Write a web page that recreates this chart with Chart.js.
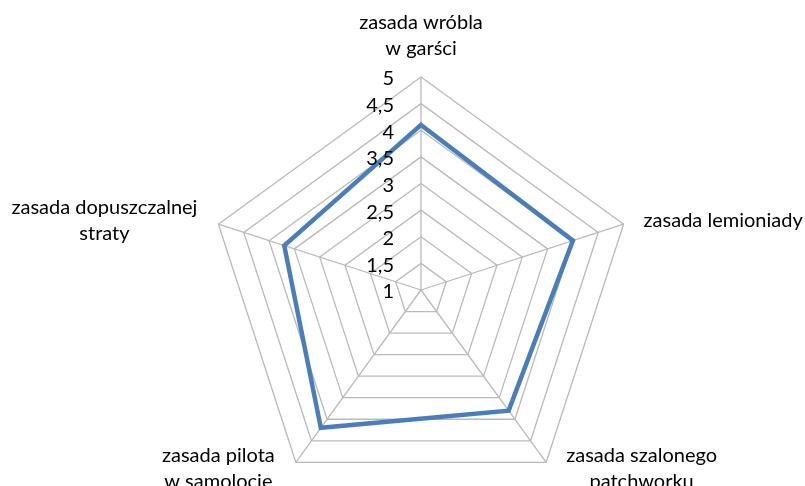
<!DOCTYPE html>
<html>
<head>
<meta charset="utf-8">
<script src="https://cdn.jsdelivr.net/npm/chart.js@4/dist/chart.umd.min.js"></script>
<style>
html,body{margin:0;padding:0;background:#fff;overflow:hidden;width:805px;height:486px;}
canvas{display:block;}
</style>
</head>
<body>
<canvas id="c" width="805" height="503"></canvas>
<script>
const categories = [
  ["zasada wróbla", "w garści"],
  ["zasada lemioniady"],
  ["zasada szalonego", "patchworku"],
  ["zasada pilota", "w samolocie"],
  ["zasada dopuszczalnej", "straty"]
];
const seriesValues = [4.1, 4.0, 3.8, 4.2, 3.7];
const tickValues = [1, 1.5, 2, 2.5, 3, 3.5, 4, 4.5, 5];
const tickLabels = ["1", "1,5", "2", "2,5", "3", "3,5", "4", "4,5", "5"];

const FONT = '20px Lato';
const LINE_H = 26;

const labelPlugin = {
  id: 'excelLabels',
  afterDraw(chart) {
    const scale = chart.scales.r;
    const ctx = chart.ctx;
    ctx.save();
    ctx.font = FONT;
    ctx.fillStyle = '#000';
    // tick labels
    ctx.textAlign = 'right';
    ctx.textBaseline = 'middle';
    scale.ticks.forEach((t) => {
      const idx = tickValues.indexOf(t.value);
      const txt = idx >= 0 ? tickLabels[idx] : String(t.value);
      const d = scale.getDistanceFromCenterForValue(t.value);
      ctx.fillText(txt, scale.xCenter - 27, scale.yCenter - d + 2);
    });
    // point labels
    ctx.textBaseline = 'alphabetic';
    ctx.textAlign = 'center';
    chart.data.labels.forEach((lines, i) => {
      const p = scale.getPointPosition(i, scale.drawingArea);
      const dx = p.x - scale.xCenter;
      const dy = p.y - scale.yCenter;
      const n = lines.length;
      const w = Math.max(...lines.map(l => ctx.measureText(l).width));
      let cx, firstBase;
      if (Math.abs(dx) < 1) {
        cx = p.x;
        firstBase = p.y - 22 - (n - 1) * LINE_H;
      } else {
        cx = dx > 0 ? p.x + 20 + w / 2 : p.x - 21 - w / 2;
        if (dy < 0) {
          firstBase = p.y + 2.5 - (n - 1) / 2 * LINE_H;
        } else {
          firstBase = p.y;
        }
      }
      lines.forEach((l, k) => ctx.fillText(l, cx, firstBase + k * LINE_H));
    });
    ctx.restore();
  }
};

new Chart(document.getElementById('c'), {
  type: 'radar',
  data: {
    labels: categories,
    datasets: [{
      data: seriesValues,
      borderColor: '#4a7ebb',
      backgroundColor: 'rgba(0,0,0,0)',
      borderWidth: 4.5,
      pointRadius: 0,
      pointHoverRadius: 0,
      fill: false,
      tension: 0,
      borderJoinStyle: 'miter'
    }]
  },
  options: {
    responsive: false,
    animation: false,
    devicePixelRatio: 1,
    layout: { padding: { left: 208, right: 171, top: 77, bottom: 0 } },
    plugins: { legend: { display: false }, tooltip: { enabled: false } },
    scales: {
      r: {
        min: 1,
        max: 5,
        ticks: { stepSize: 0.5, display: false, showLabelBackdrop: false },
        pointLabels: { display: false },
        grid: { color: '#bababa', lineWidth: 1.3 },
        angleLines: { color: '#bababa', lineWidth: 1.3 }
      }
    }
  },
  plugins: [labelPlugin]
});
</script>
</body>
</html>
